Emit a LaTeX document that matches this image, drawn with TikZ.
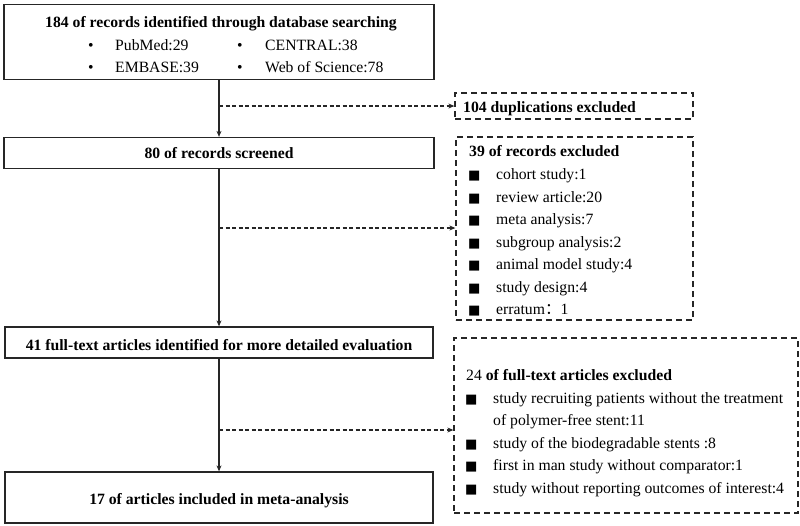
\documentclass[tikz,border=0pt]{standalone}
\usepackage{fontspec}
\setmainfont{Liberation Serif}
\newfontfamily\symfont{DejaVu Sans}
\newfontfamily\cjk{Noto Sans CJK SC}
\usetikzlibrary{arrows.meta}
\tikzset{
  solidbox/.style={draw=black!85, line width=1.3pt, minimum width=#1, inner sep=0pt},
  dashbox/.style={draw=black!85, line width=1.3pt, dash pattern=on 6pt off 4pt, inner sep=0pt},
  flow/.style={draw=black!85, line width=1.3pt, -{Stealth[length=6pt,width=5pt]}},
  dflow/.style={draw=black!85, line width=1.5pt, dash pattern=on 4pt off 2.5pt, -{Stealth[length=6pt,width=5pt]}},
  ttl/.style={font=\fontsize{15.7}{18}\selectfont\bfseries, inner sep=0pt, anchor=base},
  lttl/.style={font=\fontsize{15.7}{18}\selectfont\bfseries, inner sep=0pt, anchor=base west},
  itm/.style={font=\fontsize{15.7}{18}\selectfont, inner sep=0pt, anchor=base west},
  sq/.style={font=\fontsize{13}{15}\selectfont\symfont, inner sep=0pt, anchor=base west},
}
\begin{document}
\begin{tikzpicture}[x=1pt,y=-1pt]
\useasboundingbox (0,0) rectangle (800,525);
% main boxes
\node[solidbox=430pt, minimum height=75pt] (b1) at (219,42) {};
\node[solidbox=430pt, minimum height=31pt] (b2) at (219,153) {};
\node[solidbox=428pt, minimum height=31pt] (b3) at (219,342.5) {};
\node[solidbox=428pt, minimum height=51pt] (b4) at (219,497.5) {};
% side boxes
\node[dashbox, minimum width=238pt, minimum height=26pt] (d1) at (574,106) {};
\node[dashbox, minimum width=237pt, minimum height=183pt] (d2) at (574.5,228.5) {};
\node[dashbox, minimum width=344pt, minimum height=175pt] (d3) at (626,425.5) {};
% box1 text
\node[ttl] (t1) at (221,27) {184 of records identified through database searching};
\node[itm] (u1) at (88,50) {•};
\node[itm] (p1) at (115,50) {PubMed:29};
\node[itm] (u2) at (237,50) {•};
\node[itm] (p2) at (265,50) {CENTRAL:38};
\node[itm] (u3) at (88,72) {•};
\node[itm] (p3) at (115,72) {EMBASE:39};
\node[itm] (u4) at (237,72) {•};
\node[itm] (p4) at (265,72) {Web of Science:78};
% other main texts
\node[ttl] (t2) at (219,158) {80 of records screened};
\node[ttl] (t3) at (219,350) {41 full-text articles identified for more detailed evaluation};
\node[ttl] (t4) at (219,504) {17 of articles included in meta-analysis};
% dup box
\node[lttl] (t5) at (463,112) {104 duplications excluded};
% 39 box
\node[lttl] (t6) at (469,156) {39 of records excluded};
\foreach \y/\txt [count=\i] in {179/cohort study:1, 202/review article:20, 224/meta analysis:7, 247/subgroup analysis:2, 269/animal model study:4, 292/study design:4} {
  \node[sq] (s\i) at (468,\y) {■};
  \node[itm] (e\i) at (496,\y) {\txt};
}
\node[sq] (s7) at (468,314) {■};
\node[itm] (e7) at (496,314) {erratum{\cjk ：}1};
% 24 box
\node[itm] (t7) at (466,380) {24 \textbf{of full-text articles excluded}};
\node[sq] (f1) at (465,403) {■};
\node[itm] (g1) at (493,403) {study recruiting patients without the treatment};
\node[itm] (g1b) at (493,425) {of polymer-free stent:11};
\node[sq] (f2) at (465,448) {■};
\node[itm] (g2) at (493,448) {study of the biodegradable stents :8};
\node[sq] (f3) at (465,470) {■};
\node[itm] (g3) at (493,470) {first in man study without comparator:1};
\node[sq] (f4) at (465,493) {■};
\node[itm] (g4) at (493,493) {study without reporting outcomes of interest:4};
% connectors
\draw[flow] (b1.south) -- (b2.north);
\draw[flow] (b2.south) -- (b3.north);
\draw[flow] (b3.south) -- (b4.north);
\coordinate (c1) at (b1.south |- 0,106);
\coordinate (c2) at (b2.south |- 0,228);
\coordinate (c3) at (b3.south |- 0,430);
\draw[dflow] (c1) -- (c1 -| d1.west);
\draw[dflow] (c2) -- (c2 -| d2.west);
\draw[dflow] (c3) -- (c3 -| d3.west);
\end{tikzpicture}
\end{document}
